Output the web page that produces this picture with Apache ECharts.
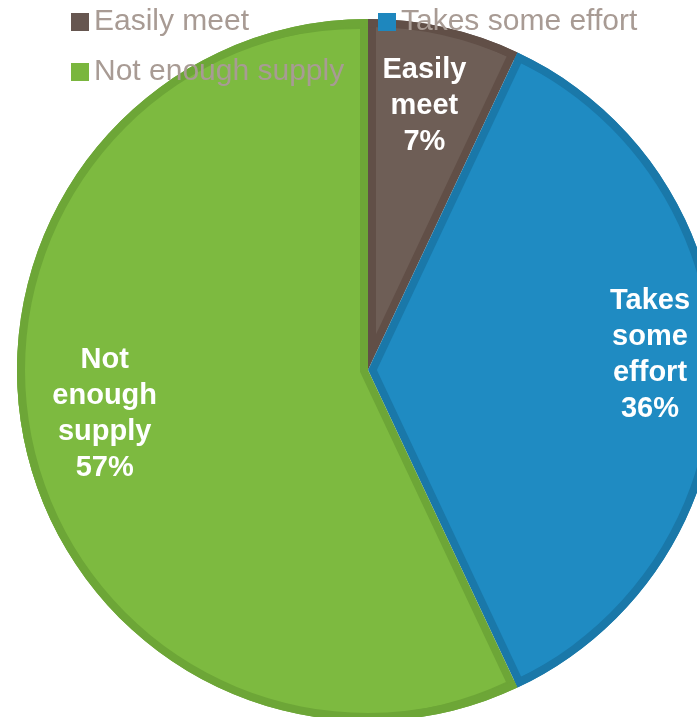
<!DOCTYPE html>
<html>
<head>
<meta charset="utf-8">
<script src="https://cdn.jsdelivr.net/npm/echarts@6/dist/echarts.min.js"></script>
<style>
  html, body { margin: 0; padding: 0; background: #ffffff; }
  #chart { width: 697px; height: 717px; }
</style>
</head>
<body>
<div id="chart"></div>
<script>
// ---- data ----
const categories = ['Easily meet', 'Takes some effort', 'Not enough supply'];
const values = [7, 36, 57];

// ---- styles ----
const lightColors = ['#6E5E56', '#1F8BC2', '#7DBA40'];
const darkColors  = ['#614F47', '#1A78A9', '#6DA637'];
const legendColors = ['#665650', '#1E87BE', '#7AB63E'];
const legendTextColor = '#A89B94';
const labelNudge = [[-4, 6], [5, -15], [7, -16]];

const cx = 368, cy = 370, R = 351, band = 8;
const total = values.reduce((a, b) => a + b, 0);

// per-slice geometry for the inset (inner border) look
let acc = 0;
const sliceGeom = values.map(v => {
  const span = v / total * 360;
  const start = acc;
  acc += span;
  const half = span / 2 * Math.PI / 180;
  const bis = (start + span / 2) * Math.PI / 180;
  const s = band / Math.sin(half);
  const rin = R - band;
  const r = Math.min(Math.max(rin - s, Math.sqrt(rin * rin - band * band) - s * Math.cos(half)), R - s);
  return { center: [cx + s * Math.sin(bis), cy - s * Math.cos(bis)], r };
});

const baseData = (colorFn) => categories.map((name, i) => ({
  name, value: values[i], itemStyle: { color: colorFn(i), borderWidth: 0 }
}));

const common = {
  type: 'pie',
  startAngle: 90,
  clockwise: true,
  silent: true,
  emphasis: { disabled: true },
  label: { show: false },
  labelLine: { show: false },
  animation: false,
  avoidLabelOverlap: false
};

const series = [];
// dark base
series.push(Object.assign({}, common, {
  z: 1, center: [cx, cy], radius: R,
  data: baseData(i => darkColors[i])
}));
// light inset slices
sliceGeom.forEach((g, k) => {
  series.push(Object.assign({}, common, {
    z: 2, center: g.center, radius: g.r,
    data: baseData(i => i === k ? lightColors[i] : 'rgba(0,0,0,0)')
  }));
});
// dark outer ring band
series.push(Object.assign({}, common, {
  z: 3, center: [cx, cy], radius: [R - band, R],
  data: baseData(i => darkColors[i])
}));
// labels
series.push(Object.assign({}, common, {
  z: 4, center: [cx, cy], radius: [197, R],
  data: baseData(() => 'rgba(0,0,0,0)'),
  label: {
    show: true,
    position: 'inside',
    color: '#ffffff',
    fontFamily: '"Liberation Sans", Arial, sans-serif',
    fontWeight: 'bold',
    fontSize: 29,
    lineHeight: 36,
    align: 'center',
    formatter: p => p.name.split(' ').join('\n') + '\n' + p.value + '%'
  },
  labelLayout: p => ({ dx: labelNudge[p.dataIndex][0], dy: labelNudge[p.dataIndex][1] })
}));

const legendPos = [[71, 5], [378, 5], [71, 55]];
const legends = categories.map((name, i) => ({
  left: legendPos[i][0],
  top: legendPos[i][1],
  padding: 0,
  z: 10,
  selectedMode: false,
  icon: 'rect',
  itemWidth: 18,
  itemHeight: 18,
  textStyle: {
    color: legendTextColor,
    fontFamily: '"Liberation Sans", Arial, sans-serif',
    fontSize: 30,
    lineHeight: 34
  },
  data: [{ name, itemStyle: { color: legendColors[i] } }]
}));

const chart = echarts.init(document.getElementById('chart'), null, { renderer: 'canvas' });
chart.setOption({
  backgroundColor: '#ffffff',
  animation: false,
  legend: legends,
  series
});
</script>
</body>
</html>
